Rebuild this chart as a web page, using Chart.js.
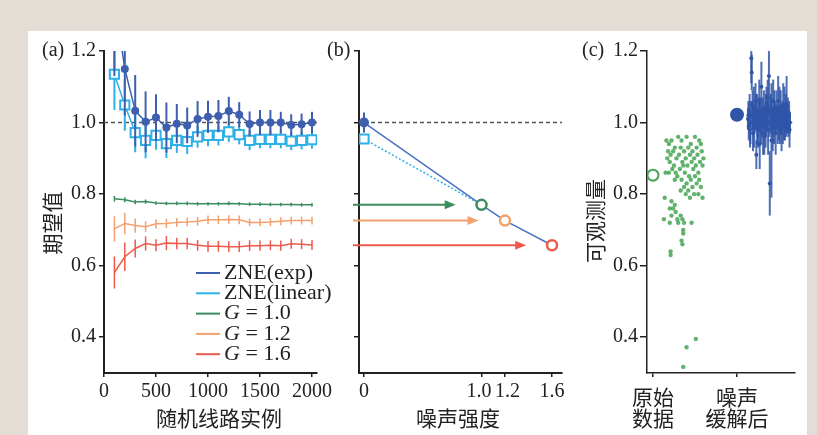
<!DOCTYPE html>
<html>
<head>
<meta charset="utf-8">
<script src="https://cdn.jsdelivr.net/npm/chart.js@4.4.1/dist/chart.umd.min.js"></script>
<style>
  body { margin: 0; background: #e3ddd6; width: 817px; height: 435px; overflow: hidden; }
  #frame { position: absolute; left: 28px; top: 31px; width: 779px; height: 404px; background: #fff; }
  canvas { position: absolute; left: 0; top: 0; }
</style>
</head>
<body>
<div id="frame"></div>
<canvas id="chartA" width="817" height="435"></canvas>
<canvas id="chartB" width="817" height="435"></canvas>
<canvas id="chartC" width="817" height="435"></canvas>
<script>
// ---- data ----
const runs = [100, 200, 300, 400, 500, 600, 700, 800, 900, 1000, 1100, 1200, 1300, 1400, 1500, 1600, 1700, 1800, 1900, 2000];
const zneExp = [1.35, 1.15, 1.033, 1.002, 1.014, 0.986, 0.997, 0.992, 1.010, 1.016, 1.018, 1.032, 1.022, 0.996, 1.0, 1.0, 1.0, 0.993, 0.995, 1.0];
const zneExpErr = [0.22, 0.13, 0.10, 0.085, 0.065, 0.07, 0.055, 0.05, 0.05, 0.045, 0.045, 0.04, 0.035, 0.035, 0.035, 0.035, 0.03, 0.03, 0.03, 0.03];
const zneLin = [1.135, 1.049, 0.972, 0.950, 0.964, 0.941, 0.950, 0.947, 0.960, 0.964, 0.964, 0.974, 0.966, 0.950, 0.953, 0.953, 0.953, 0.948, 0.950, 0.952];
const zneLinErr = [0.10, 0.072, 0.055, 0.05, 0.04, 0.04, 0.035, 0.035, 0.03, 0.03, 0.028, 0.028, 0.027, 0.027, 0.025, 0.025, 0.025, 0.025, 0.025, 0.025];
const g10 = [0.787, 0.784, 0.778, 0.779, 0.775, 0.774, 0.774, 0.774, 0.773, 0.773, 0.773, 0.774, 0.773, 0.772, 0.772, 0.771, 0.771, 0.771, 0.770, 0.770];
const g10Err = [0.008, 0.007, 0.006, 0.006, 0.005, 0.005, 0.005, 0.005, 0.005, 0.005, 0.005, 0.005, 0.005, 0.005, 0.005, 0.005, 0.005, 0.005, 0.005, 0.005];
const g12 = [0.703, 0.718, 0.712, 0.709, 0.717, 0.718, 0.721, 0.722, 0.724, 0.728, 0.728, 0.729, 0.728, 0.721, 0.721, 0.722, 0.724, 0.726, 0.726, 0.726];
const g12Err = [0.035, 0.03, 0.02, 0.015, 0.013, 0.013, 0.012, 0.012, 0.012, 0.012, 0.012, 0.012, 0.012, 0.011, 0.011, 0.011, 0.011, 0.011, 0.011, 0.011];
const g16 = [0.581, 0.625, 0.648, 0.662, 0.657, 0.663, 0.662, 0.662, 0.657, 0.654, 0.654, 0.653, 0.653, 0.656, 0.656, 0.657, 0.656, 0.661, 0.660, 0.658];
const g16Err = [0.045, 0.04, 0.025, 0.02, 0.017, 0.02, 0.016, 0.016, 0.015, 0.015, 0.015, 0.015, 0.015, 0.015, 0.014, 0.014, 0.014, 0.014, 0.014, 0.014];
const legendNames = ['ZNE(exp)', 'ZNE(linear)', 'G = 1.0', 'G = 1.2', 'G = 1.6'];

const yTicks = [0.4, 0.6, 0.8, 1.0, 1.2];
const runTicks = [0, 500, 1000, 1500, 2000];

const noiseTicks = [0, 1.0, 1.2, 1.6];
const noiseTickLabels = ['0', '1.0 ', ' 1.2', '1.6'];
const noiseLevels = [1.0, 1.2, 1.6];
const noisyVals = [0.770, 0.726, 0.657];
const zeroExp = 1.0, zeroExpErr = 0.028;
const zeroLin = 0.954, zeroLinErr = 0.012;
const arrowEnds = [0.78, 0.975, 1.38];

const catLabels = [['原始', '数据'], ['噪声', '缓解后']];
const rawMean = 0.853;
const mitMean = 1.022;
const rawX = [0.16, 0.19, 0.22, 0.26, 0.30, 0.34, 0.40, 0.45, 0.50, 0.55, 0.18, 0.21, 0.24, 0.28, 0.33, 0.37, 0.42, 0.47, 0.52, 0.57,
  0.17, 0.20, 0.25, 0.31, 0.35, 0.39, 0.44, 0.49, 0.53, 0.58, 0.23, 0.27, 0.32, 0.36, 0.41, 0.46, 0.51, 0.56, 0.60, 0.19,
  0.29, 0.38, 0.43, 0.48, 0.54, 0.59, 0.15, 0.26, 0.34, 0.40, 0.45, 0.50, 0.55, 0.37, 0.42, 0.47, 0.52, 0.57, 0.39, 0.44,
  0.49, 0.54, 0.59, 0.33, 0.14, 0.22, 0.26, 0.20, 0.24, 0.27, 0.22, 0.29, 0.13, 0.20, 0.30, 0.35, 0.37, 0.33, 0.46, 0.36,
  0.36, 0.34, 0.35, 0.21, 0.21, 0.51, 0.40, 0.36];
const rawY = [0.95, 0.94, 0.95, 0.93, 0.96, 0.95, 0.96, 0.94, 0.96, 0.95, 0.92, 0.91, 0.92, 0.90, 0.93, 0.92, 0.93, 0.92, 0.93, 0.94,
  0.90, 0.89, 0.88, 0.91, 0.89, 0.90, 0.91, 0.90, 0.91, 0.92, 0.87, 0.86, 0.87, 0.88, 0.88, 0.89, 0.88, 0.89, 0.90, 0.86,
  0.85, 0.86, 0.85, 0.87, 0.86, 0.88, 0.86, 0.84, 0.84, 0.83, 0.84, 0.85, 0.84, 0.82, 0.81, 0.82, 0.83, 0.82, 0.80, 0.79,
  0.80, 0.80, 0.79, 0.81, 0.79, 0.78, 0.77, 0.76, 0.76, 0.75, 0.74, 0.73, 0.73, 0.72, 0.72, 0.73, 0.72, 0.74, 0.72, 0.70,
  0.69, 0.67, 0.66, 0.64, 0.63, 0.395, 0.372, 0.317];
const mitX = [1.13, 1.135, 1.14, 1.15, 1.155, 1.16, 1.17, 1.175, 1.18, 1.185, 1.19, 1.20, 1.205, 1.21, 1.22, 1.225, 1.23, 1.24, 1.245, 1.25,
  1.26, 1.265, 1.27, 1.28, 1.285, 1.29, 1.30, 1.305, 1.31, 1.32, 1.325, 1.33, 1.34, 1.345, 1.35, 1.36, 1.365, 1.37, 1.38, 1.385,
  1.39, 1.40, 1.405, 1.41, 1.42, 1.425, 1.43, 1.44, 1.445, 1.45, 1.46, 1.465, 1.47, 1.48, 1.485, 1.49, 1.50, 1.505, 1.51, 1.52,
  1.525, 1.53, 1.54, 1.545, 1.55, 1.56, 1.565, 1.57, 1.58, 1.585, 1.59, 1.60, 1.605, 1.61, 1.62, 1.625, 1.63];
const mitY = [1.01, 1.02, 0.99, 1.03, 0.98, 1.00, 1.18, 1.14, 1.02, 1.05, 0.97, 1.04, 0.99, 1.00, 1.06, 1.03, 0.91, 1.01, 1.00, 0.98,
  1.03, 1.06, 0.94, 1.02, 0.99, 1.10, 1.00, 1.03, 0.97, 1.04, 0.96, 1.01, 0.99, 1.02, 1.05, 1.02, 1.07, 0.98, 1.13, 1.00,
  0.83, 1.03, 1.02, 0.95, 1.00, 0.98, 1.06, 0.99, 1.04, 1.02, 0.97, 1.01, 1.04, 1.01, 0.99, 1.06, 1.00, 1.04, 0.98, 1.03,
  1.01, 0.97, 1.02, 0.99, 1.05, 1.00, 1.04, 0.99, 1.03, 1.01, 1.05, 1.01, 1.03, 0.99, 1.02, 0.98, 1.00];
const mitErr = [0.03, 0.04, 0.04, 0.05, 0.05, 0.06, 0.07, 0.05, 0.04, 0.04, 0.05, 0.06, 0.06, 0.03, 0.05, 0.05, 0.04, 0.07, 0.04, 0.05,
  0.04, 0.06, 0.07, 0.05, 0.05, 0.07, 0.04, 0.04, 0.06, 0.05, 0.05, 0.03, 0.06, 0.06, 0.05, 0.04, 0.05, 0.07, 0.10, 0.04,
  0.09, 0.05, 0.05, 0.16, 0.04, 0.06, 0.06, 0.05, 0.05, 0.04, 0.06, 0.04, 0.05, 0.03, 0.05, 0.07, 0.05, 0.06, 0.04, 0.06,
  0.04, 0.05, 0.04, 0.05, 0.06, 0.05, 0.06, 0.04, 0.05, 0.05, 0.08, 0.04, 0.04, 0.03, 0.04, 0.05, 0.03];

// ---- style ----
const serif = "'Liberation Serif', 'DejaVu Serif', serif";
const cjk = "'Noto Sans CJK SC', 'Noto Sans CJK JP', sans-serif";
const ink = '#222';
const cExp = '#3d5fae', cLin = '#2fb0e6', c10 = '#3b8d5c', c12 = '#f3a06d', c16 = '#ee5a4a';
const cRaw = '#45a552', cMit = '#2f55a8';

const pts = (xs, ys) => xs.map((x, i) => ({ x: x, y: ys[i] }));

// vertical error bars through the chart's own scales
const errorBars = {
  id: 'errorBars',
  beforeDatasetDraw(chart, args) {
    const ds = chart.data.datasets[args.index];
    if (!ds.errors) return;
    const ctx = chart.ctx, a = chart.chartArea, ys = chart.scales.y;
    ctx.save();
    ctx.beginPath();
    ctx.rect(a.left, a.top, a.right - a.left, a.bottom - a.top);
    ctx.clip();
    ctx.strokeStyle = ds.errorColor || ds.borderColor;
    ctx.lineWidth = ds.errorWidth || 1.5;
    args.meta.data.forEach(function (p, i) {
      const v = ds.data[i].y, e = ds.errors[i];
      ctx.beginPath();
      ctx.moveTo(p.x, ys.getPixelForValue(v - e));
      ctx.lineTo(p.x, ys.getPixelForValue(v + e));
      ctx.stroke();
    });
    ctx.restore();
  }
};

// reference lines, arrows, panel texts, legend
const decor = {
  id: 'decor',
  beforeDatasetsDraw(chart, args, o) {
    const ctx = chart.ctx, a = chart.chartArea, xs = chart.scales.x, ys = chart.scales.y;
    (o.refLines || []).forEach(function (r) {
      const x0 = r.from == null ? a.left : xs.getPixelForValue(r.from);
      const x1 = r.to == null ? a.right : xs.getPixelForValue(r.to);
      const y = ys.getPixelForValue(r.value);
      ctx.save();
      ctx.strokeStyle = r.color;
      ctx.lineWidth = r.width;
      ctx.setLineDash(r.dash || []);
      ctx.beginPath();
      ctx.moveTo(x0, y);
      ctx.lineTo(x1, y);
      ctx.stroke();
      ctx.restore();
    });
  },
  afterDraw(chart, args, o) {
    const ctx = chart.ctx, a = chart.chartArea, xs = chart.scales.x, ys = chart.scales.y;
    (o.arrows || []).forEach(function (r) {
      const x0 = a.left - 6, x1 = xs.getPixelForValue(r.to), y = ys.getPixelForValue(r.y);
      ctx.save();
      ctx.strokeStyle = r.color;
      ctx.fillStyle = r.color;
      ctx.lineWidth = 2;
      ctx.beginPath();
      ctx.moveTo(x0, y);
      ctx.lineTo(x1 - 8, y);
      ctx.stroke();
      ctx.beginPath();
      ctx.moveTo(x1, y);
      ctx.lineTo(x1 - 11, y - 4.5);
      ctx.lineTo(x1 - 11, y + 4.5);
      ctx.closePath();
      ctx.fill();
      ctx.restore();
    });
    (o.texts || []).forEach(function (t) {
      ctx.save();
      ctx.font = t.font;
      ctx.fillStyle = ink;
      ctx.textAlign = t.align || 'center';
      ctx.textBaseline = 'middle';
      ctx.translate(t.x, t.y);
      if (t.rot) ctx.rotate(t.rot);
      ctx.fillText(t.text, 0, 0);
      ctx.restore();
    });
    if (o.legend) {
      const L = o.legend;
      L.names.forEach(function (name, i) {
        const y = L.y + i * L.dy;
        const col = chart.data.datasets[i].borderColor;
        ctx.save();
        ctx.strokeStyle = col;
        ctx.lineWidth = 2;
        ctx.beginPath();
        ctx.moveTo(L.x, y);
        ctx.lineTo(L.x + L.len, y);
        ctx.stroke();
        ctx.fillStyle = ink;
        ctx.textAlign = 'left';
        ctx.textBaseline = 'middle';
        let tx = L.x + L.len + 4;
        let rest = name;
        if (name.charAt(0) === 'G') {
          ctx.font = 'italic 22px ' + serif;
          ctx.fillText('G', tx, y);
          tx += ctx.measureText('G').width;
          rest = name.slice(1);
        }
        ctx.font = '22px ' + serif;
        ctx.fillText(rest, tx, y);
        ctx.restore();
      });
    }
  }
};

function yAxis(width, labels, tickLen, pad, bw) {
  return {
    type: 'linear', min: 0.3, max: 1.2,
    afterBuildTicks: function (s) { s.ticks = yTicks.map(function (v) { return { value: v }; }); },
    afterFit: function (s) { s.width = width; },
    border: { color: ink, width: bw },
    grid: { drawOnChartArea: false, tickLength: tickLen, color: ink, lineWidth: 1.5 },
    ticks: { display: labels, padding: pad, color: ink, font: { family: serif, size: 20 },
      callback: function (v) { return v.toFixed(1); } }
  };
}

function xAxis(min, max, tickVals, fmt, font, pad, bw) {
  return {
    type: 'linear', min: min, max: max,
    afterBuildTicks: function (s) { s.ticks = tickVals.map(function (v) { return { value: v }; }); },
    afterFit: function (s) { s.height = 62; },
    border: { color: ink, width: bw },
    grid: { drawOnChartArea: false, tickLength: 4, color: ink, lineWidth: 1.5 },
    ticks: { padding: pad, color: ink, font: font, autoSkip: false, maxRotation: 0, minRotation: 0,
      callback: fmt }
  };
}

const common = {
  responsive: false,
  animation: false,
  events: [],
  elements: { line: { tension: 0 } }
};

// ---- panel (a) ----
new Chart(document.getElementById('chartA'), {
  type: 'scatter',
  data: {
    datasets: [
      { label: legendNames[0], data: pts(runs, zneExp), errors: zneExpErr, errorWidth: 2, showLine: true,
        borderColor: cExp, backgroundColor: cExp, borderWidth: 1.5, pointRadius: 4, pointBorderWidth: 0 },
      { label: legendNames[1], data: pts(runs, zneLin), errors: zneLinErr, errorWidth: 2, showLine: true,
        borderColor: cLin, backgroundColor: '#fff', borderWidth: 1.5, pointStyle: 'rect', pointRadius: 6.5, pointBorderWidth: 2 },
      { label: legendNames[2], data: pts(runs, g10), errors: g10Err, showLine: true,
        borderColor: c10, backgroundColor: c10, borderWidth: 1.5, pointRadius: 0 },
      { label: legendNames[3], data: pts(runs, g12), errors: g12Err, showLine: true,
        borderColor: c12, backgroundColor: c12, borderWidth: 1.5, pointRadius: 0 },
      { label: legendNames[4], data: pts(runs, g16), errors: g16Err, showLine: true,
        borderColor: c16, backgroundColor: c16, borderWidth: 1.5, pointRadius: 0 }
    ]
  },
  options: Object.assign({}, common, {
    layout: { padding: { left: 44, top: 51, right: 500, bottom: 0 } },
    scales: {
      x: xAxis(0, 2048, runTicks, function (v) { return String(v); }, { family: serif, size: 20 }, 3, 2),
      y: yAxis(60, true, 5, 3, 2)
    },
    plugins: {
      legend: { display: false },
      tooltip: { enabled: false },
      decor: {
        refLines: [{ value: 1.0, color: '#555', width: 1.5, dash: [4, 3] }],
        texts: [
          { text: '(a)', x: 42, y: 51, align: 'left', font: '20px ' + serif },
          { text: '期望值', x: 52, y: 223, rot: -Math.PI / 2, font: '21px ' + cjk },
          { text: '随机线路实例', x: 219, y: 418, font: '21px ' + cjk }
        ],
        legend: { names: legendNames, x: 196, y: 273, dy: 20.3, len: 24 }
      }
    }
  }),
  plugins: [errorBars, decor]
});

// ---- panel (b) ----
new Chart(document.getElementById('chartB'), {
  type: 'scatter',
  data: {
    datasets: [
      { data: pts(noiseLevels, noisyVals), borderColor: [c10, c12, c16], backgroundColor: '#fff',
        pointRadius: 5, pointBorderWidth: 2.5 },
      { data: [{ x: 0, y: zeroExp }], errors: [zeroExpErr], errorWidth: 2, borderColor: cExp, backgroundColor: cExp,
        pointRadius: 5, pointBorderWidth: 0 },
      { data: [{ x: 0, y: zeroLin }], errors: [zeroLinErr], errorWidth: 2, borderColor: cLin, backgroundColor: '#fff',
        pointStyle: 'rect', pointRadius: 6.5, pointBorderWidth: 2 },
      { data: [{ x: 0, y: zeroExp }].concat(pts(noiseLevels, noisyVals)), showLine: true,
        borderColor: '#4a72c4', borderWidth: 1.5, pointRadius: 0 },
      { data: [{ x: 0, y: zeroLin }, { x: noiseLevels[0], y: noisyVals[0] }], showLine: true,
        borderColor: cLin, borderWidth: 1.5, borderDash: [2, 2], pointRadius: 0 }
    ]
  },
  options: Object.assign({}, common, {
    layout: { padding: { left: 329, top: 51, right: 255, bottom: 0 } },
    scales: {
      x: xAxis(-0.0426, 1.685, noiseTicks, function (v, i) { return noiseTickLabels[i]; }, { family: serif, size: 20 }, 3, 2),
      y: yAxis(30, false, 5, 3, 2)
    },
    plugins: {
      legend: { display: false },
      tooltip: { enabled: false },
      decor: {
        refLines: [{ value: 1.0, from: 0, color: '#555', width: 1.5, dash: [4, 3] }],
        arrows: [
          { y: noisyVals[0], to: arrowEnds[0], color: c10 },
          { y: noisyVals[1], to: arrowEnds[1], color: c12 },
          { y: noisyVals[2], to: arrowEnds[2], color: c16 }
        ],
        texts: [
          { text: '(b)', x: 327, y: 51, align: 'left', font: '20px ' + serif },
          { text: '噪声强度', x: 458, y: 418, font: '21px ' + cjk }
        ]
      }
    }
  }),
  plugins: [errorBars, decor]
});

// ---- panel (c) ----
new Chart(document.getElementById('chartC'), {
  type: 'scatter',
  data: {
    datasets: [
      { data: [{ x: 0, y: rawMean }], borderColor: cRaw, backgroundColor: '#fff', pointRadius: 5.5, pointBorderWidth: 2 },
      { data: [{ x: 1, y: mitMean }], borderColor: cMit, backgroundColor: cMit, pointRadius: 7, pointBorderWidth: 0 },
      { data: pts(rawX, rawY), borderColor: cRaw, backgroundColor: 'rgba(69,165,82,0.85)', pointRadius: 2.2, pointBorderWidth: 0 },
      { data: pts(mitX, mitY), errors: mitErr, errorWidth: 2, errorColor: 'rgba(47,85,168,0.85)',
        borderColor: cMit, backgroundColor: cMit, pointRadius: 2, pointBorderWidth: 0 }
    ]
  },
  options: Object.assign({}, common, {
    layout: { padding: { left: 587, top: 51, right: 22, bottom: 0 } },
    scales: {
      x: xAxis(-0.071, 1.69, [0, 1], function (v, i) { return catLabels[i]; },
        { family: cjk, size: 21, lineHeight: 1.03 }, 9, 1.5),
      y: yAxis(60, true, 7, 2, 1.5)
    },
    plugins: {
      legend: { display: false },
      tooltip: { enabled: false },
      decor: {
        refLines: [{ value: 1.0, from: 1.12, to: 1.66, color: '#888', width: 1 }],
        texts: [
          { text: '(c)', x: 582, y: 51, align: 'left', font: '20px ' + serif },
          { text: '可观测量', x: 595, y: 221, rot: -Math.PI / 2, font: '21px ' + cjk }
        ]
      }
    }
  }),
  plugins: [errorBars, decor]
});
</script>
</body>
</html>
